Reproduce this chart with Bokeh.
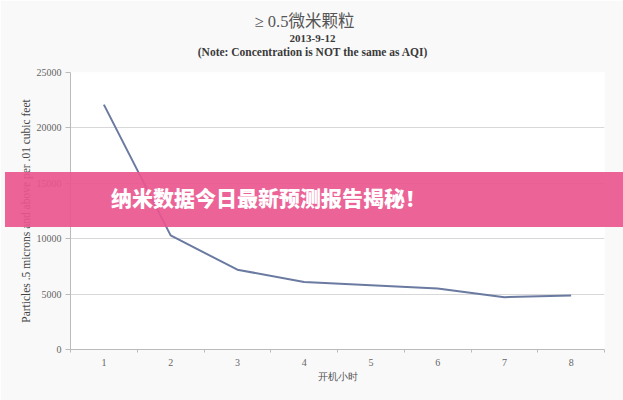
from bokeh.plotting import figure
from bokeh.models import FixedTicker, Div
from bokeh.layouts import column
from bokeh.embed import file_html
from bokeh.resources import INLINE

hours = [1, 2, 3, 4, 5, 6, 7, 8]
particles = [22100, 10300, 7200, 6100, 5800, 5500, 4720, 4880]
y_ticks = [0, 5000, 10000, 15000, 20000, 25000]

title_main = "≥ 0.5微米颗粒"
title_date = "2013-9-12"
title_note = "(Note: Concentration is NOT the same as AQI)"
x_label = "开机小时"
y_label = "Particles .5 microns and above per .01 cubic feet"
banner_text = "纳米数据今日最新预测报告揭秘！"

W, H = 623, 400
L, R, T, B = 70, 19, 72, 51

p = figure(width=W, height=H, output_backend="svg", toolbar_location=None,
           x_range=(0.5, 8.5), y_range=(0, 25000),
           min_border_left=L, min_border_right=R, min_border_top=T, min_border_bottom=B)
p.background_fill_color = "#ffffff"
p.border_fill_color = "#f9f9f9"
p.outline_line_color = None

p.line(hours, particles, line_color="#6a7aa0", line_width=2)

serif = "Liberation Serif"
p.xaxis.ticker = FixedTicker(ticks=hours, minor_ticks=[h - 0.5 for h in hours] + [8.5])
p.xaxis.major_tick_line_color = None
p.xaxis.minor_tick_out = 3
p.xaxis.minor_tick_in = 0
p.xaxis.minor_tick_line_color = "#bbbbbb"
p.xaxis.axis_line_color = "#bbbbbb"
p.xaxis.major_label_text_font = serif
p.xaxis.major_label_text_font_size = "10px"
p.xaxis.major_label_text_color = "#666666"
p.xaxis.major_label_standoff = 3
p.xaxis.axis_label = x_label
p.xaxis.axis_label_text_font = serif
p.xaxis.axis_label_text_font_size = "10px"
p.xaxis.axis_label_text_font_style = "normal"
p.xaxis.axis_label_text_color = "#555555"
p.xaxis.axis_label_standoff = 2

p.yaxis.ticker = FixedTicker(ticks=y_ticks)
p.yaxis.minor_tick_line_color = None
p.yaxis.major_tick_out = 5
p.yaxis.major_tick_in = 0
p.yaxis.major_tick_line_color = "#bbbbbb"
p.yaxis.axis_line_color = "#bbbbbb"
p.yaxis.major_label_text_font = serif
p.yaxis.major_label_text_font_size = "10px"
p.yaxis.major_label_text_color = "#666666"
p.yaxis.major_label_standoff = 4
p.yaxis.axis_label = y_label
p.yaxis.axis_label_text_font = serif
p.yaxis.axis_label_text_font_size = "11.5px"
p.yaxis.axis_label_text_font_style = "normal"
p.yaxis.axis_label_text_color = "#444444"
p.yaxis.axis_label_standoff = 2

p.xgrid.grid_line_color = None
p.ygrid.grid_line_color = "#d8d8d8"
p.ygrid.grid_line_width = 1

p.title = None

titles_html = (
    f'<div style="font-size:16.5px;line-height:18px;color:#555555;font-weight:normal;'
    f'padding-right:16px">{title_main}</div>'
    f'<div style="font-size:11px;line-height:14px;color:#3a3a3a;font-weight:bold">{title_date}</div>'
    f'<div style="font-size:11.5px;line-height:14px;color:#3a3a3a;font-weight:bold">{title_note}</div>'
)
titles = Div(text=titles_html, width=W, height=52,
             styles={"position": "absolute", "left": "-4px", "top": "8px",
                     "width": "624px", "z-index": "5", "text-align": "center",
                     "font-family": "'Liberation Serif', 'Noto Sans CJK SC', serif",
                     "display": "block"})

banner = Div(text=banner_text, width=W, height=55,
             styles={"position": "absolute", "left": "0px", "top": "167px",
                     "width": f"{W}px", "height": "55px", "z-index": "10",
                     "background-color": "rgba(233, 86, 142, 0.92)",
                     "color": "#ffffff", "font-family": "'Noto Sans CJK SC'",
                     "font-size": "21px", "font-weight": "900",
                     "display": "flex", "align-items": "center",
                     "justify-content": "flex-start", "padding-left": "106px",
                     "padding-bottom": "5px", "box-sizing": "border-box"})

layout = column(p, titles, banner)
open("out.html", "w").write(file_html(layout, INLINE))
